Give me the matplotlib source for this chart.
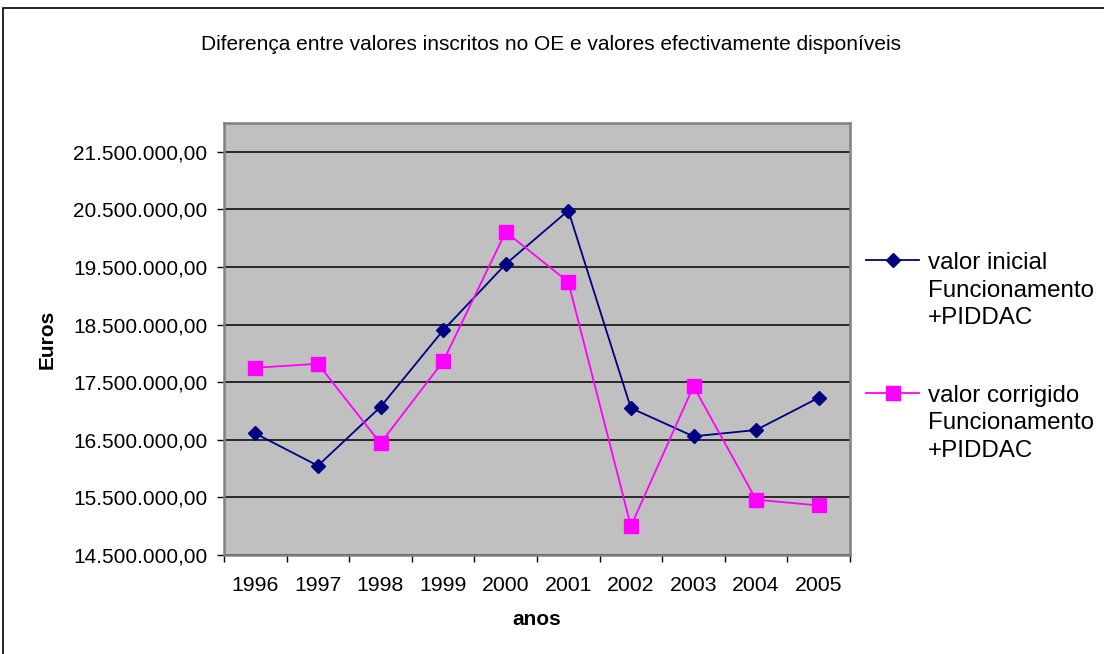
import matplotlib
matplotlib.use("Agg")
from matplotlib import pyplot as plot
from matplotlib.ticker import FuncFormatter, FixedLocator
from matplotlib.patches import Rectangle

plot.rcParams['font.family'] = ['Liberation Sans', 'DejaVu Sans']

anos = ['1996', '1997', '1998', '1999', '2000', '2001', '2002', '2003', '2004', '2005']

#valores em euros
valorInicial = [16610000, 16050000, 17070000, 18400000, 19550000,
                20480000, 17050000, 16560000, 16670000, 17230000]
valorCorrigido = [17750000, 17820000, 16440000, 17860000, 20110000,
                  19240000, 15000000, 17430000, 15460000, 15360000]

yTicks = [14500000, 15500000, 16500000, 17500000, 18500000, 19500000, 20500000, 21500000]

labelInicial = "valor inicial\nFuncionamento\n+PIDDAC"
labelCorrigido = "valor corrigido\nFuncionamento\n+PIDDAC"


def eurosFormat(value, pos):
    text = f"{value:,.2f}"
    return text.replace(",", "#").replace(".", ",").replace("#", ".")


def main():
    figure = plot.figure(figsize=(11.04, 6.54), dpi=100)
    axis = figure.add_axes([224 / 1104, 99 / 654, 626 / 1104, 432 / 654])

    x = list(range(len(anos)))
    axis.plot(x, valorInicial, color="#000080", lw=1.3, marker="D", ms=7,
              label=labelInicial, zorder=3)
    axis.plot(x, valorCorrigido, color="#FF00FF", lw=1.3, marker="s", ms=9.5,
              label=labelCorrigido, zorder=3)

    axis.set_facecolor("#C0C0C0")
    axis.set_xlim(-0.5, len(anos) - 0.5)
    axis.set_ylim(14500000, 22000000)

    #category boundaries get the tick marks, centres get the labels
    axis.xaxis.set_major_locator(FixedLocator([i - 0.5 for i in range(len(anos) + 1)]))
    axis.xaxis.set_major_formatter(FuncFormatter(lambda v, p: ""))
    axis.xaxis.set_minor_locator(FixedLocator(x))
    axis.set_xticks(x, anos, minor=True)
    axis.tick_params(axis="x", which="major", length=5, width=1, direction="out")
    axis.tick_params(axis="x", which="minor", length=0, pad=15, labelsize=15.3)

    axis.set_yticks(yTicks)
    axis.yaxis.set_major_formatter(FuncFormatter(eurosFormat))
    axis.tick_params(axis="y", length=5, width=1, pad=7, labelsize=15)

    axis.grid(axis="y", color="black", lw=1.1)
    axis.set_axisbelow(True)
    for spine in axis.spines.values():
        spine.set_color("#808080")
        spine.set_linewidth(1.8)

    axis.set_xlabel("anos", fontsize=15, fontweight="bold", labelpad=11)
    axis.set_ylabel("Euros", fontsize=15, fontweight="bold", labelpad=12)

    figure.text(551 / 1104, 1 - 44 / 654, "Diferença entre valores inscritos no OE e valores efectivamente disponíveis",
                ha="center", va="center", fontsize=15)

    legend = figure.legend(loc="upper left", bbox_to_anchor=(866 / 1104, 1 - 252 / 654),
                           frameon=False, fontsize=17.4, handlelength=2.2, handletextpad=0.38,
                           labelspacing=2.3, borderpad=0, borderaxespad=0)
    for text in legend.get_texts():
        text.set_linespacing(1.33)
    for column in legend._legend_handle_box.get_children():
        for row in column.get_children():
            row.align = "top"

    #outer chart frame
    figure.patches.append(Rectangle((3 / 1104, -0.05), 1.1, 1.05 - 8 / 654, transform=figure.transFigure,
                                    fill=False, edgecolor="black", lw=1.2))

    plot.savefig("out.png", dpi=100)


if (__name__ == "__main__"):
    main()
